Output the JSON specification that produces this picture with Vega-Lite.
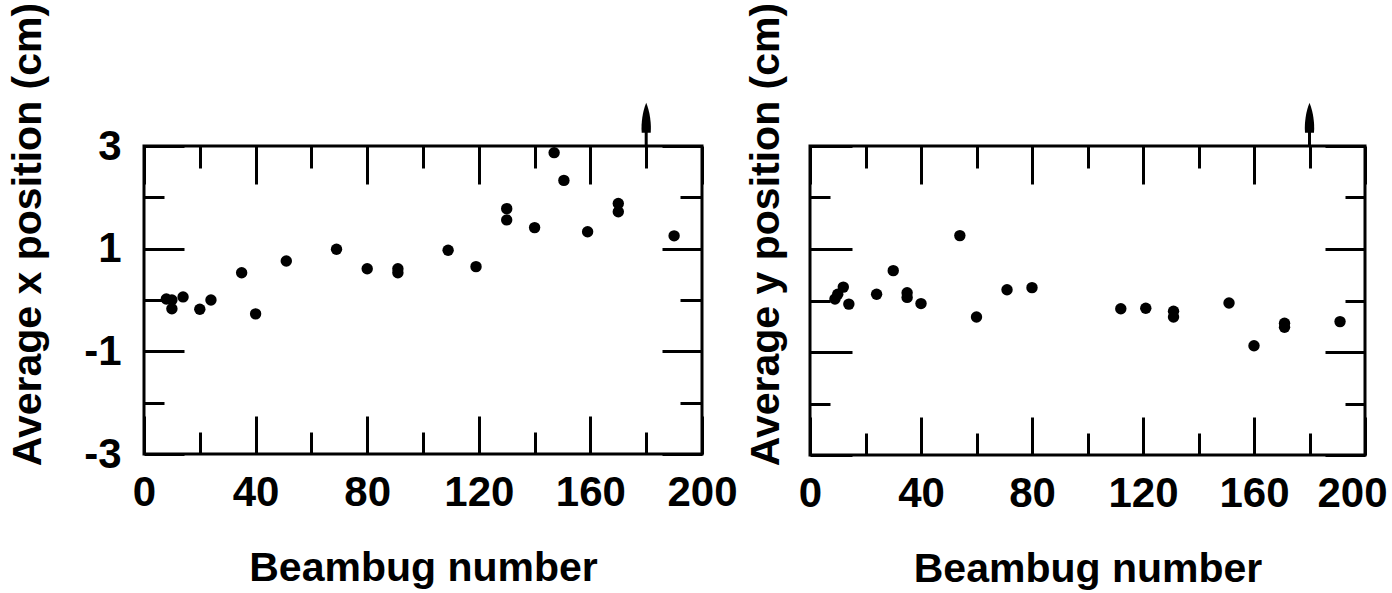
{
  "$schema": "https://vega.github.io/schema/vega-lite/v6.json",
  "background": "white",
  "padding": {"left": 6, "top": 0, "right": 4, "bottom": 2},
  "config": {
    "view": {"stroke": "black", "strokeWidth": 3},
    "font": "Liberation Sans",
    "axis": {
      "domain": false, "grid": false, "tickColor": "black", "tickWidth": 3,
      "labelFont": "Liberation Sans", "labelFontWeight": "bold", "labelFontSize": 42, "labelColor": "black",
      "labelOverlap": false, "labelFlush": false,
      "titleFont": "Liberation Sans", "titleFontWeight": "bold", "titleFontSize": 41, "titleColor": "black"
    }
  },
  "datasets": {
    "xpos": [
      {"bug": 8, "avg": 0.02}, {"bug": 10, "avg": 0.0}, {"bug": 10, "avg": -0.17}, {"bug": 14, "avg": 0.06},
      {"bug": 20, "avg": -0.18}, {"bug": 24, "avg": 0.0}, {"bug": 35, "avg": 0.53}, {"bug": 40, "avg": -0.27},
      {"bug": 51, "avg": 0.76}, {"bug": 69, "avg": 0.99}, {"bug": 80, "avg": 0.61}, {"bug": 91, "avg": 0.61},
      {"bug": 91, "avg": 0.53}, {"bug": 109, "avg": 0.97}, {"bug": 119, "avg": 0.65}, {"bug": 130, "avg": 1.78},
      {"bug": 130, "avg": 1.56}, {"bug": 140, "avg": 1.41}, {"bug": 147, "avg": 2.87}, {"bug": 150.5, "avg": 2.33},
      {"bug": 159, "avg": 1.33}, {"bug": 170, "avg": 1.88}, {"bug": 170, "avg": 1.72}, {"bug": 190, "avg": 1.25}
    ],
    "ypos": [
      {"bug": 9, "avg": 0.03}, {"bug": 10, "avg": 0.12}, {"bug": 12, "avg": 0.26}, {"bug": 14, "avg": -0.07},
      {"bug": 24, "avg": 0.12}, {"bug": 30, "avg": 0.58}, {"bug": 35, "avg": 0.15}, {"bug": 35, "avg": 0.06},
      {"bug": 40, "avg": -0.06}, {"bug": 54, "avg": 1.26}, {"bug": 60, "avg": -0.32}, {"bug": 71, "avg": 0.21},
      {"bug": 80, "avg": 0.25}, {"bug": 112, "avg": -0.16}, {"bug": 121, "avg": -0.15}, {"bug": 131, "avg": -0.21},
      {"bug": 131, "avg": -0.32}, {"bug": 151, "avg": -0.05}, {"bug": 160, "avg": -0.88}, {"bug": 171, "avg": -0.44},
      {"bug": 171, "avg": -0.52}, {"bug": 191, "avg": -0.41}
    ],
    "arrow": [{"bug": 180, "lo": 3, "hi": 3.4, "tip": 3.55}]
  },
  "spacing": 108,
  "bounds": "flush",
  "hconcat": [
    {
      "width": 558, "height": 308,
      "layer": [
        {
          "data": {"name": "xpos"},
          "mark": {"type": "circle", "size": 130, "color": "black", "opacity": 1},
          "encoding": {
            "x": {"field": "bug", "type": "quantitative", "scale": {"domain": [0, 200], "nice": false, "zero": false},
              "axis": {"orient": "bottom", "values": [0, 20, 40, 60, 80, 100, 120, 140, 160, 180, 200],
                "tickSize": {"condition": {"test": "datum.value % 40 === 0", "value": -38}, "value": -22},
                "labelExpr": "datum.value % 40 === 0 ? datum.label : ''", "labelPadding": 56,
                "title": "Beambug number", "titlePadding": 19}},
            "y": {"field": "avg", "type": "quantitative", "scale": {"domain": [-3, 3], "nice": false, "zero": false},
              "axis": {"orient": "left", "values": [-3, -2, -1, 0, 1, 2, 3],
                "tickSize": {"condition": {"test": "abs(datum.value) % 2 === 1", "value": -40}, "value": -20},
                "labelExpr": "abs(datum.value) % 2 === 1 ? replace(datum.label, '−', '-') : ''", "labelPadding": 63,
                "title": "Average x position (cm)", "titlePadding": 34, "titleY": 88}}
          }
        },
        {
          "data": {"name": "arrow"},
          "mark": {"type": "rule", "color": "black", "strokeWidth": 3},
          "encoding": {
            "x": {"field": "bug", "type": "quantitative", "scale": {"domain": [0, 200], "nice": false, "zero": false},
              "axis": {"orient": "top", "values": [0, 20, 40, 60, 80, 100, 120, 140, 160, 180, 200],
                "tickSize": {"condition": {"test": "datum.value % 40 === 0", "value": -38}, "value": -22},
                "labels": false, "title": null}},
            "y": {"field": "lo", "type": "quantitative", "scale": {"domain": [-3, 3], "nice": false, "zero": false},
              "axis": {"orient": "right", "values": [-3, -2, -1, 0, 1, 2, 3],
                "tickSize": {"condition": {"test": "abs(datum.value) % 2 === 1", "value": -40}, "value": -22},
                "labels": false, "title": null}},
            "y2": {"field": "hi"}
          }
        },
        {
          "data": {"name": "arrow"},
          "mark": {"type": "point", "filled": true, "color": "black", "opacity": 1, "size": 900,
            "shape": "M0,-1C0.25,-0.4 0.35,0.4 0.3,1L-0.3,1C-0.35,0.4 -0.25,-0.4 0,-1Z"},
          "encoding": {
            "x": {"field": "bug", "type": "quantitative", "scale": {"domain": [0, 200], "nice": false, "zero": false}, "axis": null},
            "y": {"field": "tip", "type": "quantitative", "scale": {"domain": [-3, 3], "nice": false, "zero": false}, "axis": null}
          }
        }
      ],
      "resolve": {"axis": {"x": "independent", "y": "independent"}}
    },
    {
      "width": 555, "height": 309,
      "layer": [
        {
          "data": {"name": "ypos"},
          "mark": {"type": "circle", "size": 130, "color": "black", "opacity": 1},
          "encoding": {
            "x": {"field": "bug", "type": "quantitative", "scale": {"domain": [0, 200], "nice": false, "zero": false},
              "axis": {"orient": "bottom", "values": [0, 20, 40, 60, 80, 100, 120, 140, 160, 180, 200],
                "tickSize": {"condition": {"test": "datum.value % 40 === 0", "value": -38}, "value": -22},
                "labelExpr": "datum.value % 40 === 0 ? datum.label : ''", "labelPadding": 56,
                "labelOffset": {"condition": {"test": "datum.value === 200", "value": -13}, "value": 0},
                "title": "Beambug number", "titlePadding": 19}},
            "y": {"field": "avg", "type": "quantitative", "scale": {"domain": [-3, 3], "nice": false, "zero": false},
              "axis": {"orient": "left", "values": [-3, -2, -1, 0, 1, 2, 3],
                "tickSize": {"condition": {"test": "abs(datum.value) % 2 === 1", "value": -42}, "value": -20},
                "labels": false,
                "title": "Average y position (cm)", "titlePadding": 21, "titleY": 88}}
          }
        },
        {
          "data": {"name": "arrow"},
          "mark": {"type": "rule", "color": "black", "strokeWidth": 3},
          "encoding": {
            "x": {"field": "bug", "type": "quantitative", "scale": {"domain": [0, 200], "nice": false, "zero": false},
              "axis": {"orient": "top", "values": [0, 20, 40, 60, 80, 100, 120, 140, 160, 180, 200],
                "tickSize": {"condition": {"test": "datum.value % 40 === 0", "value": -38}, "value": -22},
                "labels": false, "title": null}},
            "y": {"field": "lo", "type": "quantitative", "scale": {"domain": [-3, 3], "nice": false, "zero": false},
              "axis": {"orient": "right", "values": [-3, -2, -1, 0, 1, 2, 3],
                "tickSize": {"condition": {"test": "abs(datum.value) % 2 === 1", "value": -40}, "value": -20},
                "labels": false, "title": null}},
            "y2": {"field": "hi"}
          }
        },
        {
          "data": {"name": "arrow"},
          "mark": {"type": "point", "filled": true, "color": "black", "opacity": 1, "size": 900,
            "shape": "M0,-1C0.25,-0.4 0.35,0.4 0.3,1L-0.3,1C-0.35,0.4 -0.25,-0.4 0,-1Z"},
          "encoding": {
            "x": {"field": "bug", "type": "quantitative", "scale": {"domain": [0, 200], "nice": false, "zero": false}, "axis": null},
            "y": {"field": "tip", "type": "quantitative", "scale": {"domain": [-3, 3], "nice": false, "zero": false}, "axis": null}
          }
        }
      ],
      "resolve": {"axis": {"x": "independent", "y": "independent"}}
    }
  ]
}
